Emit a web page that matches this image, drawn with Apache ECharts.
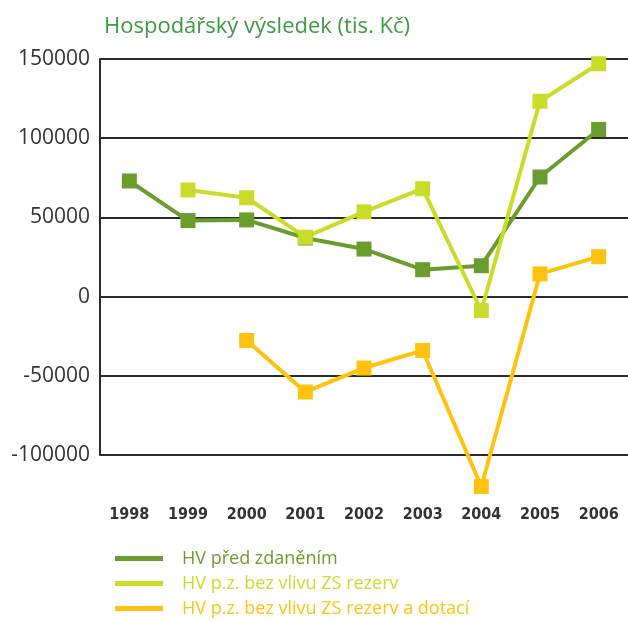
<!DOCTYPE html>
<html>
<head>
<meta charset="utf-8">
<script src="https://cdn.jsdelivr.net/npm/echarts@6/dist/echarts.min.js"></script>
<style>
  html, body { margin: 0; padding: 0; background: #fff; }
  #main { width: 628px; height: 622px; }
</style>
</head>
<body>
<div id="main"></div>
<script>
// data
var years = ['1998', '1999', '2000', '2001', '2002', '2003', '2004', '2005', '2006'];
var hvPredZdanenim = [73000, 48000, 48400, 37000, 30000, 17000, 19500, 75500, 105500];
var hvBezRezerv = [null, 67300, 62400, 37500, 53500, 68100, -8800, 123300, 147000];
var hvBezRezervDotaci = [null, null, -27700, -60200, -45100, -34000, -119900, 14300, 25200];
var yTicks = { min: -100000, max: 150000, step: 50000 };

var names = ['HV před zdaněním', 'HV p.z. bez vlivu ZS rezerv', 'HV p.z. bez vlivu ZS rezerv a dotací'];
var colors = ['#6a9c2e', '#cbdb2a', '#ffc20e'];

var chart = echarts.init(document.getElementById('main'));

function makeSeries(i, data) {
  return {
    name: names[i],
    type: 'line',
    data: data,
    clip: false,
    symbol: 'rect',
    symbolSize: 15,
    itemStyle: { color: colors[i] },
    lineStyle: { color: colors[i], width: 4 },
    emphasis: { disabled: true }
  };
}

var option = {
  animation: false,
  title: {
    text: 'Hospodářský výsledek (tis. Kč)',
    left: 99,
    top: 11,
    textStyle: { fontFamily: 'Open Sans', fontSize: 22, fontWeight: 'normal', color: '#3d9a3f' }
  },
  grid: { left: 100, top: 59, width: 530, bottom: 167, containLabel: false },
  xAxis: {
    type: 'category',
    data: years,
    boundaryGap: true,
    axisLine: { show: false },
    axisTick: { show: false },
    axisLabel: {
      margin: 52,
      fontFamily: "'DejaVu Sans Condensed', 'Roboto Condensed', Roboto, sans-serif",
      fontWeight: 'bold',
      fontSize: 16,
      color: '#333'
    }
  },
  yAxis: {
    type: 'value',
    min: yTicks.min,
    max: yTicks.max,
    interval: yTicks.step,
    axisLine: { show: true, lineStyle: { color: '#2b2b2b', width: 2 } },
    axisTick: { show: false },
    splitLine: { show: true, lineStyle: { color: '#2b2b2b', width: 2 } },
    axisLabel: {
      margin: 10,
      fontFamily: 'Open Sans',
      fontSize: 21,
      color: '#333',
      formatter: function (v) { return String(v); }
    }
  },
  legend: {
    orient: 'vertical',
    left: 115,
    top: 547,
    height: 80,
    icon: 'rect',
    itemWidth: 48,
    itemHeight: 5,
    itemGap: 2,
    padding: 0,
    textStyle: { fontFamily: 'Open Sans', fontSize: 18, lineHeight: 23, padding: [0, 0, 0, 14] },
    data: [
      { name: names[0], textStyle: { color: colors[0] } },
      { name: names[1], textStyle: { color: colors[1] } },
      { name: names[2], textStyle: { color: colors[2] } }
    ]
  },
  series: [
    makeSeries(0, hvPredZdanenim),
    makeSeries(1, hvBezRezerv),
    makeSeries(2, hvBezRezervDotaci)
  ]
};

chart.setOption(option);
</script>
</body>
</html>
